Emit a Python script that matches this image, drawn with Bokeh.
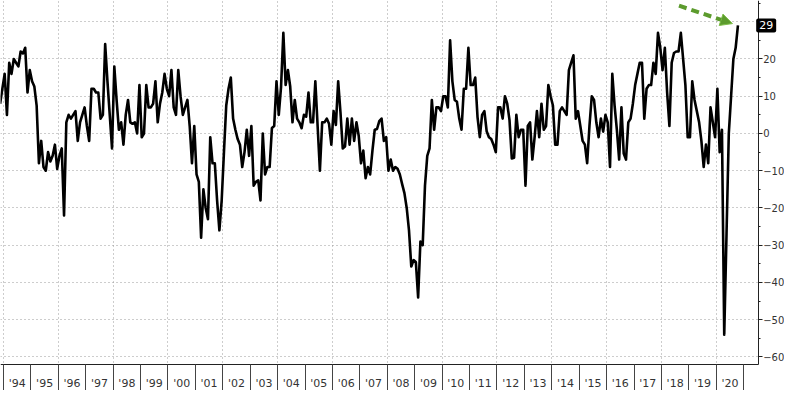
from bokeh.plotting import figure
from bokeh.models import FixedTicker, Label, Arrow, NormalHead, LinearAxis, BoxAnnotation
from bokeh.embed import file_html
from bokeh.resources import INLINE

# Monthly index values, Nov 1993 .. Oct 2020
values = [
    8, 12, 16, 5, 19, 16, 20, 19, 18, 22, 21.5, 23,            # Nov93..Oct94
    11, 17, 14, 12.6, 7.5, -8, -2, -9, -10, -5, -7.5, -6,      # ..Oct95
    -3, -9.5, -6, -4, -22, 3, 5, 4, 5, 6, -2, 3,               # ..Oct96
    5, 7, 2, -2, 12, 12, 11, 11, 4, 5, 24, 14,                 # ..Oct97
    5, -4, 18, 9, 1, 3, -3, 5, 9, 3, 2.6, 3,                   # ..Oct98
    0, 13, -1, 0, 13, 7, 7, 8, 14, 3, 8, 11,                   # ..Oct99
    16, 12, 10, 17, 7, 5, 17, 10, 5, 7, 9, 2,                  # ..Oct00
    -8, 2, -11, -13, -28, -15, -20, -23, -1, -8, -8, -18,      # ..Oct01
    -26, -18, -5, 7.5, 12, 15, 4, 1, -1.5, -3, -9, -5,         # ..Oct02
    1, -6, 2, -14, -13, -12.6, -18, 0, -11, -9, -9, 1.5,       # ..Oct03
    2, 14, 5, 12.6, 27, 13, 17, 12.6, 3, 9, 4, 3,              # ..Oct04
    1.4, 5, 4.5, 11, 3, 3, 14, 2, -10, 3, 3, 4,                # ..Oct05
    2.6, -3, 6, 2.3, 14, 5.7, -4, -3.5, 4, -3, 4, -2,          # ..Oct06
    3, -0.7, -8, -4.6, -12, -9, -11, -4.6, 1, 1.2, 3.3, 4,     # ..Oct07
    -2, -1, -10, -7, -10, -9, -9.5, -11, -13.6, -16, -20, -26, # ..Oct08
    -35.7, -34, -34.5, -44, -29, -30, -14, -6, -4, 9, 1, 7,    # ..Oct09
    7, 6, 10, 10, 7, 25, 14, 9, 8.5, 4, 1, 12,                 # ..Oct10
    12, 23, 13, 13, 15, 4.4, -1, 5, 6, 0.6, -1, -1.5,          # ..Oct11
    -3, -5, 7, 7, 4, 10, 8, 3.6, -6.7, -6.5, 5, -1,            # ..Oct12
    1, 1, -14, 2, 3, -7, -1, 6, -1, 8, 1, 2,                   # ..Oct13
    13, 10, 7.5, -3, -3, 6, 7, 6, 5, 17, 19, 21,               # ..Oct14
    4, 6, 2, -2, -3, -8, 2, 10, 9, 3, -1, 4,                   # ..Oct15
    0.5, 5, 3, -9, 16, 7.5, 1, -7, 7, -5.4, -7, 3,             # ..Oct16
    4, 8, 13, 16, 19, 19, 4, 12, 13, 13, 19, 16,               # ..Oct17
    27, 23, 17, 23, 11, 2, 19, 21.6, 22, 22, 27, 20,           # ..Oct18
    13, -1, -1, 14, 9, 6, 3, -2, -9, -3, -8, 7,                # ..Oct19
    3, -1, 12, -5, 1, -54, -27, 0, 10, 20, 23, 29,             # ..Oct20
]
start_year = 1993
start_month = 11
year_labels = list(range(1994, 2021))
y_ticks = list(range(-60, 31, 10))

# decimal-year position of each month (mid-month)
t = [start_year + (start_month - 1 + i + 0.5) / 12 for i in range(len(values))]

X_START, AXIS_X, X_END = 1993.89, 2021.53, 2022.49
Y_TOP, AXIS_Y, Y_BOTTOM = 35.7, -62, -69

p = figure(width=784, height=390, output_backend="svg", toolbar_location=None,
           x_range=(X_START, X_END), y_range=(Y_BOTTOM, Y_TOP),
           x_axis_location=None, y_axis_location=None,
           min_border_left=0, min_border_top=0, min_border_bottom=0, min_border_right=0)
p.outline_line_color = None
p.background_fill_color = "white"

# grids
p.xgrid.ticker = FixedTicker(ticks=[y for y in range(1994, 2022, 2)])
p.ygrid.ticker = FixedTicker(ticks=y_ticks)
for g in (p.xgrid, p.ygrid):
    g.grid_line_color = "#9a9a9a"
    g.grid_line_dash = "1 3"
    g.grid_line_width = 1

# keep the label strips (right of value axis, below time axis) free of grid lines
p.add_layout(BoxAnnotation(left=AXIS_X, fill_color="white", fill_alpha=1,
                           line_color=None, level="glyph"))
p.add_layout(BoxAnnotation(top=AXIS_Y, fill_color="white", fill_alpha=1,
                           line_color=None, level="glyph"))

# time axis: labels at mid-year, separators (minor ticks) at year boundaries
xa = LinearAxis(fixed_location=AXIS_Y, bounds=(X_START, AXIS_X))
xa.ticker = FixedTicker(ticks=[y + 0.5 for y in year_labels],
                        minor_ticks=[y for y in range(1994, 2022)])
xa.major_label_overrides = {y + 0.5: "'%02d" % (y % 100) for y in year_labels}
xa.major_tick_line_color = None
xa.major_tick_out = 0
xa.major_tick_in = 0
xa.minor_tick_out = 27
xa.minor_tick_in = 0
xa.minor_tick_line_color = "#444444"
xa.axis_line_color = "#222222"
xa.major_label_standoff = -14
xa.major_label_text_font = "DejaVu Sans"
xa.major_label_text_font_size = "11px"
xa.major_label_text_color = "#333333"
p.add_layout(xa, "below")

# value axis on the right
ya = LinearAxis(fixed_location=AXIS_X, bounds=(AXIS_Y, Y_TOP))
ya.ticker = FixedTicker(ticks=y_ticks, minor_ticks=list(range(-60, 36, 5)))
ya.major_label_overrides = {30: ""}
ya.major_tick_out = 4
ya.major_tick_in = 0
ya.minor_tick_out = 2
ya.minor_tick_in = 0
ya.axis_line_color = "#222222"
ya.major_tick_line_color = "#222222"
ya.minor_tick_line_color = "#222222"
ya.major_label_standoff = 1
ya.major_label_text_font = "DejaVu Sans"
ya.major_label_text_font_size = "10px"
ya.major_label_text_color = "#333333"
p.add_layout(ya, "right")

p.line(t, values, line_color="black", line_width=2.6, line_join="round")

# last-value tag
last_t, last_v = t[-1], values[-1]
p.add_layout(Label(x=AXIS_X, y=last_v, x_offset=-2, text=str(int(last_v)),
                   text_color="white", text_font="DejaVu Sans", text_font_size="11px",
                   text_baseline="middle", text_align="left",
                   background_fill_color="black", padding=3, border_radius=2))

# green dashed arrow pointing at the last value
p.add_layout(Arrow(x_start=last_t - 2.15, y_start=last_v + 5.3,
                   x_end=last_t - 0.2, y_end=last_v + 0.5,
                   line_color="#5c9b2d", line_width=4, line_dash="8 5",
                   end=NormalHead(size=12, fill_color="#5c9b2d", line_color="#7fbf4a")))

open("out.html", "w").write(file_html(p, INLINE))
